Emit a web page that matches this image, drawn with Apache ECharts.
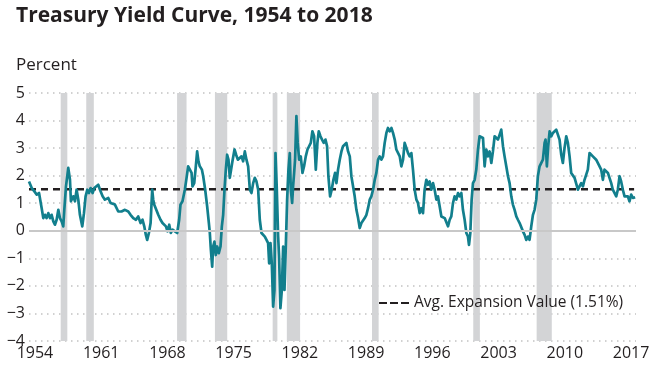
<!DOCTYPE html>
<html>
<head>
<meta charset="utf-8">
<script src="https://cdn.jsdelivr.net/npm/echarts@6/dist/echarts.min.js"></script>
<style>
html,body{margin:0;padding:0;background:#fff;}
#chart{width:665px;height:385px;}
</style>
</head>
<body>
<div id="chart"></div>
<script>
// ---- data ----
const titleText = 'Treasury Yield Curve, 1954 to 2018';
const unitText = 'Percent';
const legendText = 'Avg. Expansion Value (1.51%)';
const avgValue = 1.51;
const xStart = 1954.25;
const xEnd = 2018.4;
const tickYears = [1954, 1961, 1968, 1975, 1982, 1989, 1996, 2003, 2010, 2017];
const yTicks = [-4, -3, -2, -1, 0, 1, 2, 3, 4, 5];
const recStart = [1957.6, 1960.3, 1969.9, 1973.9, 1980.0, 1981.5, 1990.5, 2001.2, 2007.9];
const recEnd   = [1958.3, 1961.1, 1970.9, 1975.2, 1980.5, 1982.9, 1991.2, 2001.9, 2009.5];

const years = [
1954.25,1954.54,1954.82,1955.07,1955.31,1955.41,1955.59,1955.76,1955.94,1956.11,1956.29,1956.47,1956.64,1956.82,1956.99,
1957.17,1957.35,1957.52,1957.70,1957.87,1957.98,1958.16,1958.40,1958.58,1958.68,1958.93,1959.11,1959.28,1959.46,1959.63,
1959.88,1960.06,1960.23,1960.41,1960.58,1960.76,1960.97,1961.15,1961.32,1961.57,1961.75,1962.03,1962.27,1962.63,1962.87,
1963.08,1963.33,1963.68,1964.03,1964.39,1964.74,1964.98,1965.27,1965.55,1965.79,1966.04,1966.25,1966.43,1966.60,1966.74,
1966.92,1967.10,1967.27,1967.38,1967.48,1967.66,1967.91,1968.15,1968.36,1968.54,1968.72,1968.89,1969.07,1969.24,1969.42,
1969.67,1969.91,1970.12,1970.26,1970.47,1970.72,1970.90,1971.07,1971.25,1971.43,1971.53,1971.71,1971.88,1972.02,1972.16,
1972.30,1972.52,1972.66,1972.87,1973.08,1973.26,1973.36,1973.47,1973.61,1973.71,1973.85,1973.99,1974.14,1974.31,1974.49,
1974.63,1974.77,1974.91,1975.05,1975.19,1975.33,1975.47,1975.61,1975.75,1975.97,1976.14,1976.32,1976.53,1976.71,1976.88,
1977.06,1977.23,1977.41,1977.59,1977.76,1977.94,1978.11,1978.29,1978.47,1978.64,1978.82,1978.99,1979.17,1979.35,1979.52,
1979.63,1979.77,1979.91,1980.05,1980.19,1980.30,1980.44,1980.58,1980.68,1980.82,1980.97,1981.11,1981.25,1981.39,1981.53,
1981.67,1981.81,1981.92,1982.06,1982.16,1982.27,1982.37,1982.51,1982.65,1982.80,1982.97,1983.15,1983.32,1983.50,1983.68,
1983.85,1984.03,1984.20,1984.38,1984.56,1984.73,1984.87,1985.05,1985.22,1985.40,1985.58,1985.75,1985.89,1986.07,1986.24,
1986.42,1986.60,1986.74,1986.91,1987.09,1987.27,1987.44,1987.62,1987.79,1987.97,1988.15,1988.32,1988.50,1988.67,1988.85,
1989.03,1989.20,1989.38,1989.55,1989.73,1989.91,1990.08,1990.26,1990.43,1990.61,1990.79,1990.96,1991.14,1991.31,1991.49,
1991.66,1991.84,1992.02,1992.19,1992.37,1992.55,1992.72,1992.90,1993.07,1993.25,1993.43,1993.60,1993.78,1993.95,1994.13,
1994.31,1994.48,1994.66,1994.83,1995.01,1995.19,1995.36,1995.54,1995.71,1995.89,1996.06,1996.24,1996.42,1996.59,1996.77,
1996.95,1997.12,1997.30,1997.47,1997.65,1997.83,1998.00,1998.18,1998.35,1998.53,1998.71,1998.88,1999.06,1999.23,1999.41,
1999.59,1999.76,1999.94,2000.11,2000.29,2000.47,2000.64,2000.75,2000.89,2001.03,2001.17,2001.35,2001.52,2001.70,2001.87,
2002.05,2002.23,2002.40,2002.58,2002.75,2002.93,2003.11,2003.28,2003.46,2003.63,2003.81,2003.99,2004.16,2004.34,2004.51,
2004.69,2004.87,2005.04,2005.22,2005.39,2005.57,2005.75,2005.92,2006.10,2006.27,2006.45,2006.63,2006.80,2006.98,2007.15,
2007.33,2007.51,2007.68,2007.86,2008.03,2008.21,2008.39,2008.56,2008.74,2008.84,2008.98,2009.12,2009.27,2009.44,2009.62,
2009.79,2009.97,2010.15,2010.32,2010.50,2010.67,2010.85,2011.03,2011.20,2011.38,2011.55,2011.73,2011.91,2012.08,2012.26,
2012.43,2012.61,2012.79,2012.96,2013.14,2013.31,2013.49,2013.67,2013.84,2014.02,2014.19,2014.37,2014.55,2014.72,2014.90,
2015.07,2015.25,2015.43,2015.60,2015.78,2015.95,2016.13,2016.31,2016.48,2016.66,2016.83,2017.01,2017.19,2017.36,2017.54,
2017.71,2017.89,2018.07,2018.31
];

const spread = [
1.79,1.55,1.43,1.31,1.37,1.30,0.82,0.46,0.58,0.46,0.64,0.46,0.58,0.34,0.22,
0.40,0.76,0.46,0.34,0.16,0.76,1.61,2.28,1.85,1.07,1.25,1.07,1.49,1.13,0.58,
0.16,0.64,1.25,1.49,1.37,1.55,1.37,1.55,1.49,1.67,1.49,1.25,1.13,1.19,1.01,
1.07,0.95,0.70,0.70,0.76,0.70,0.58,0.46,0.40,0.52,0.28,0.40,0.16,-0.15,-0.33,
-0.08,0.28,1.49,1.13,0.95,0.88,0.58,0.40,0.28,0.34,0.16,-0.02,0.22,-0.08,0.04,
-0.02,-0.08,0.40,0.95,1.07,1.49,1.92,2.34,2.22,2.10,1.61,1.73,2.34,2.88,2.52,
2.34,2.22,1.98,1.49,0.88,0.28,-0.08,-0.69,-1.30,-0.57,-0.39,-0.88,-0.57,-0.81,-0.57,
0.16,0.58,1.49,2.22,2.76,2.58,1.92,2.22,2.52,2.95,2.76,2.58,2.64,2.70,2.52,
2.88,2.58,2.34,1.49,1.37,1.73,1.92,1.79,1.49,0.40,-0.08,-0.15,-0.21,-0.33,-0.45,
-1.18,-0.45,-1.18,-2.75,-2.15,2.82,1.49,-0.21,-0.93,-2.81,-2.15,-0.57,-2.15,-0.57,1.13,
2.22,2.82,1.49,1.01,1.61,2.10,2.58,4.16,3.19,2.58,2.70,2.10,2.34,2.70,2.95,
2.88,3.19,3.61,3.43,2.22,3.19,3.61,3.43,3.31,3.19,3.31,3.07,1.98,1.25,1.49,
1.85,2.10,1.73,2.22,2.58,2.88,3.07,3.13,3.19,2.88,2.70,1.98,1.61,1.25,0.76,
0.46,0.10,0.28,0.22,0.46,0.58,0.82,1.13,1.25,1.49,1.85,2.10,2.58,2.70,2.58,
2.70,3.19,3.55,3.73,3.61,3.73,3.55,3.31,2.95,3.01,2.70,2.34,2.58,3.19,3.01,
2.82,2.70,2.82,2.22,1.49,1.13,1.01,0.64,0.82,0.64,1.49,1.85,1.67,1.79,1.49,
1.73,1.49,1.13,1.25,1.20,0.52,0.58,0.46,0.52,0.16,0.40,0.52,1.01,1.25,1.13,
1.37,1.25,1.37,0.76,0.40,-0.08,-0.21,-0.51,-0.08,1.13,1.73,1.85,2.22,2.95,3.43,
3.49,3.37,2.34,2.95,2.70,2.88,2.46,2.88,3.43,3.37,3.31,3.49,3.67,3.07,2.70,
2.34,1.98,1.73,1.25,0.95,0.76,0.52,0.40,0.28,0.34,-0.02,-0.15,-0.33,-0.21,-0.33,
0.16,0.58,0.76,1.13,1.98,2.34,2.40,2.58,3.19,3.31,2.34,3.07,3.61,3.43,3.55,
3.49,3.67,3.73,3.31,2.76,2.46,3.01,3.43,3.19,2.70,2.10,2.04,1.92,1.98,1.49,
1.61,1.73,1.61,1.85,1.79,2.22,2.82,2.88,2.70,2.76,2.58,2.52,2.34,2.22,1.85,
2.22,2.28,2.10,1.92,1.73,1.49,1.49,1.25,1.49,1.98,1.79,1.49,1.25,1.31,1.25,
1.07,1.31,1.19,1.22
];

// ---- chart ----
const FONT = '"Open Sans", "Noto Sans", sans-serif';
const TXT = '#231f20';
const LABEL_SHIFT = 0.88;
const fmtNum = v => (v < 0 ? '\u2212' + Math.abs(v) : String(v));

const chart = echarts.init(document.getElementById('chart'), null, {renderer: 'canvas'});
chart.setOption({
  animation: false,
  backgroundColor: '#ffffff',
  textStyle: {fontFamily: FONT},
  title: [
    {text: titleText, left: 11, top: 1,
     textStyle: {fontFamily: FONT, fontSize: 21, fontWeight: 'bold', color: TXT}},
    {text: unitText, left: 11, top: 52,
     textStyle: {fontFamily: FONT, fontSize: 17, fontWeight: 'normal', color: TXT}}
  ],
  legend: {
    data: [legendText],
    left: 374, top: 290,
    itemWidth: 30, itemHeight: 14, itemGap: 6,
    icon: 'path://M0,6 L8,6 L8,8 L0,8 Z M11,6 L19,6 L19,8 L11,8 Z M22,6 L30,6 L30,8 L22,8 Z',
    itemStyle: {color: TXT},
    textStyle: {fontFamily: FONT, fontSize: 15.5, color: TXT, padding: [0,0,0,0]},
    selectedMode: false
  },
  grid: {left: 29, right: 29, top: 93, bottom: 44, containLabel: false},
  xAxis: {
    type: 'value', min: xStart, max: xEnd,
    axisLine: {show: false}, axisTick: {show: false}, splitLine: {show: false},
    axisLabel: {
      customValues: tickYears.map(y => y + LABEL_SHIFT),
      formatter: v => String(Math.round(v - LABEL_SHIFT)),
      fontFamily: FONT, fontSize: 16, color: TXT, margin: 4
    }
  },
  yAxis: {
    type: 'value', min: yTicks[0], max: yTicks[yTicks.length - 1], interval: 1,
    axisLine: {show: false}, axisTick: {show: false},
    axisLabel: {formatter: fmtNum, fontFamily: FONT, fontSize: 16, color: TXT, margin: 4},
    splitLine: {show: true, lineStyle: {color: '#c2c2c2', width: 1.5, type: [1.5, 4.5]}}
  },
  series: [
    {
      name: 'recessions', type: 'line', data: [], z: 1, silent: true,
      markArea: {
        silent: true,
        itemStyle: {color: '#d3d4d6', opacity: 1},
        data: recStart.map((s, i) => [{xAxis: s}, {xAxis: recEnd[i]}])
      },
      markLine: {
        silent: true, symbol: 'none', label: {show: false},
        lineStyle: {color: '#c8c8c8', width: 2, type: 'solid'},
        data: [{yAxis: 0}]
      }
    },
    {
      name: legendText, type: 'line', z: 2, silent: true,
      symbol: 'none', showSymbol: false,
      data: [[xStart, avgValue], [xEnd - 0.2, avgValue]],
      lineStyle: {color: TXT, width: 2.5, type: [7, 5]},
      itemStyle: {color: TXT}
    },
    {
      name: 'spread', type: 'line', z: 3, silent: true,
      symbol: 'none', showSymbol: false,
      data: years.map((y, i) => [y, spread[i]]),
      lineStyle: {color: '#127f8d', width: 2.7, join: 'round'}
    }
  ]
});
</script>
</body>
</html>
